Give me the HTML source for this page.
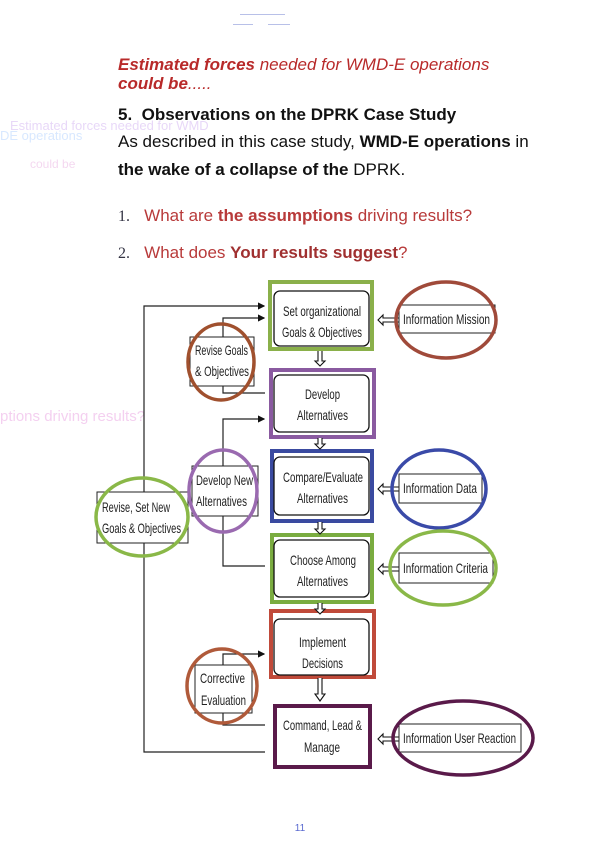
<!DOCTYPE html>
<html><head><meta charset="utf-8"><style>
html,body{margin:0;padding:0;background:#fff;}
body{width:600px;height:848px;position:relative;overflow:hidden;font-family:"Liberation Sans",sans-serif;}
.t{position:absolute;white-space:nowrap;}
</style></head><body>
<div style="position:absolute;left:240px;top:14px;width:45px;border-top:1px solid #b8c0e8"></div>
<div style="position:absolute;left:233px;top:24px;width:20px;border-top:1px solid #b8c0e8"></div>
<div style="position:absolute;left:268px;top:24px;width:22px;border-top:1px solid #b8c0e8"></div>

<div class="t" style="left:118px;top:55px;font-size:17px;color:#b82a2a;font-style:italic;line-height:19px;"><b>Estimated forces</b> needed for WMD-E operations<br><b>could be</b>.....</div>
<div class="t" style="left:10px;top:118px;font-size:13px;color:#e8d8f8;">Estimated forces needed for WMD</div>
<div class="t" style="left:0px;top:128px;font-size:13px;color:#d8e8ff;">DE operations</div>
<div class="t" style="left:30px;top:157px;font-size:12px;color:#f4d8f0;">could be</div>
<div class="t" style="left:118px;top:105px;font-size:17px;color:#111;font-weight:bold;">5.&nbsp; Observations on the DPRK Case Study</div>
<div class="t" style="left:118px;top:132px;font-size:17px;color:#111;">As described in this case study, <b>WMD-E operations</b> in</div>
<div class="t" style="left:118px;top:160px;font-size:17px;color:#111;"><b>the wake of a collapse of the</b> DPRK.</div>
<div class="t" style="left:118px;top:206px;font-size:17px;color:#b83a3a;"><span style="font-family:'Liberation Serif',serif;color:#334;font-size:16px;">1.</span>&nbsp;&nbsp; What are <b>the assumptions</b> driving results?</div>
<div class="t" style="left:118px;top:243px;font-size:17px;color:#b83a3a;"><span style="font-family:'Liberation Serif',serif;color:#334;font-size:16px;">2.</span>&nbsp;&nbsp; What does <b style="color:#a03030">Your results suggest</b>?</div>
<div class="t" style="left:0px;top:408px;font-size:15px;color:#f4d0f0;">ptions driving results?</div>

<svg width="600" height="848" style="position:absolute;left:0;top:0" font-family="Liberation Sans, sans-serif" font-size="14">
<defs><marker id="a" markerWidth="6" markerHeight="6" refX="5" refY="3" orient="auto"><path d="M0,0L6,3L0,6z" fill="#111"/></marker></defs>
<g stroke="#222" stroke-width="1.2" fill="none">
<path d="M144,496V306H264" marker-end="url(#a)"/>
<path d="M144,542V752H265"/>
<path d="M223,337V318H264" marker-end="url(#a)"/>
<path d="M223,386V393H265"/>
<path d="M223,466V419H264" marker-end="url(#a)"/>
<path d="M223,516V566H265"/>
<path d="M223,665V654H264" marker-end="url(#a)"/>
<path d="M223,713V725H265"/>
</g>
<g stroke-width="4" fill="none">
<rect x="270" y="282" width="102" height="67" stroke="#8ab04a"/>
<rect x="271" y="370" width="103" height="67" stroke="#8a5aa0"/>
<rect x="272" y="451" width="100" height="70" stroke="#3a4aa0"/>
<rect x="272" y="535" width="100" height="67" stroke="#7aac40"/>
<rect x="271" y="611" width="103" height="66" stroke="#c04a3a"/>
<rect x="275" y="706" width="95" height="61" stroke="#5a1a4a"/>
</g>
<g stroke="#111" stroke-width="1.3" fill="#fff">
<rect x="274" y="291" width="95" height="55" rx="6"/>
<rect x="274" y="375" width="95" height="57" rx="6"/>
<rect x="274" y="457" width="95" height="58" rx="6"/>
<rect x="274" y="540" width="95" height="57" rx="6"/>
<rect x="274" y="619" width="95" height="56" rx="6" fill="none"/>
</g>
<g fill="#222" lengthAdjust="spacingAndGlyphs">
<text x="283" y="316" textLength="78" lengthAdjust="spacingAndGlyphs">Set organizational</text>
<text x="282" y="337" textLength="80" lengthAdjust="spacingAndGlyphs">Goals &amp; Objectives</text>
<text x="305" y="399" textLength="35" lengthAdjust="spacingAndGlyphs">Develop</text>
<text x="297" y="420" textLength="51" lengthAdjust="spacingAndGlyphs">Alternatives</text>
<text x="283" y="482" textLength="80" lengthAdjust="spacingAndGlyphs">Compare/Evaluate</text>
<text x="297" y="503" textLength="51" lengthAdjust="spacingAndGlyphs">Alternatives</text>
<text x="290" y="565" textLength="66" lengthAdjust="spacingAndGlyphs">Choose Among</text>
<text x="297" y="586" textLength="51" lengthAdjust="spacingAndGlyphs">Alternatives</text>
<text x="299" y="647" textLength="47" lengthAdjust="spacingAndGlyphs">Implement</text>
<text x="302" y="668" textLength="41" lengthAdjust="spacingAndGlyphs">Decisions</text>
<text x="283" y="730" textLength="79" lengthAdjust="spacingAndGlyphs">Command, Lead &amp;</text>
<text x="304" y="752" textLength="36" lengthAdjust="spacingAndGlyphs">Manage</text>
</g>
<g stroke="#111" stroke-width="1.1" fill="#fff">
<path d="M318,351V361H315L320,366L325,361H322V351"/>
<path d="M318,438V444H315L320,449L325,444H322V438"/>
<path d="M318,522V529H315L320,534L325,529H322V522"/>
<path d="M318,603V609H315L320,614L325,609H322V603"/>
<path d="M318,678V694H315L320,701L325,694H322V678"/>
</g>
<g stroke="#111" stroke-width="1.1" fill="#fff">
<path d="M399,318H383V315L378,320L383,325V322H399"/>
<path d="M399,487H383V484L378,489L383,494V491H399"/>
<path d="M399,567H383V564L378,569L383,574V571H399"/>
<path d="M399,737H383V734L378,739L383,744V741H399"/>
</g>
<g stroke="#222" stroke-width="1" fill="#fff">
<rect x="399" y="305" width="96" height="28"/>
<rect x="399" y="474" width="83" height="29"/>
<rect x="399" y="553" width="94" height="30"/>
<rect x="399" y="724" width="122" height="28"/>
<rect x="190" y="337" width="64" height="49"/>
<rect x="192" y="466" width="66" height="50"/>
<rect x="97" y="492" width="91" height="51"/>
<rect x="195" y="665" width="57" height="48"/>
</g>
<g fill="#222">
<text x="403" y="324" textLength="87" lengthAdjust="spacingAndGlyphs">Information Mission</text>
<text x="403" y="493" textLength="74" lengthAdjust="spacingAndGlyphs">Information Data</text>
<text x="403" y="573" textLength="85" lengthAdjust="spacingAndGlyphs">Information Criteria</text>
<text x="403" y="743" textLength="113" lengthAdjust="spacingAndGlyphs">Information User Reaction</text>
<text x="195" y="355" textLength="53" lengthAdjust="spacingAndGlyphs">Revise Goals</text>
<text x="195" y="376" textLength="54" lengthAdjust="spacingAndGlyphs">&amp; Objectives</text>
<text x="196" y="485" textLength="57" lengthAdjust="spacingAndGlyphs">Develop New</text>
<text x="196" y="506" textLength="51" lengthAdjust="spacingAndGlyphs">Alternatives</text>
<text x="102" y="512" textLength="68" lengthAdjust="spacingAndGlyphs">Revise, Set New</text>
<text x="102" y="533" textLength="79" lengthAdjust="spacingAndGlyphs">Goals &amp; Objectives</text>
<text x="200" y="683" textLength="45" lengthAdjust="spacingAndGlyphs">Corrective</text>
<text x="201" y="705" textLength="45" lengthAdjust="spacingAndGlyphs">Evaluation</text>
</g>
<g fill="none" stroke-width="3.5">
<ellipse cx="446" cy="320" rx="50" ry="38" stroke="#a04a3a"/>
<ellipse cx="439" cy="489" rx="47" ry="39" stroke="#3a4aa8"/>
<ellipse cx="443" cy="568" rx="53" ry="37" stroke="#8ab848"/>
<ellipse cx="463" cy="738" rx="70" ry="37" stroke="#5a1a4a"/>
<ellipse cx="221" cy="362" rx="33" ry="38" stroke="#a0502e"/>
<ellipse cx="223" cy="491" rx="34" ry="41" stroke="#9a6ab0"/>
<ellipse cx="142" cy="517" rx="46" ry="39" stroke="#8ab848"/>
<ellipse cx="222" cy="686" rx="35" ry="37" stroke="#b05a3a"/>
</g>
<text x="300" y="831" font-size="10" fill="#5a6ad0" text-anchor="middle">11</text>
</svg>
</body></html>
